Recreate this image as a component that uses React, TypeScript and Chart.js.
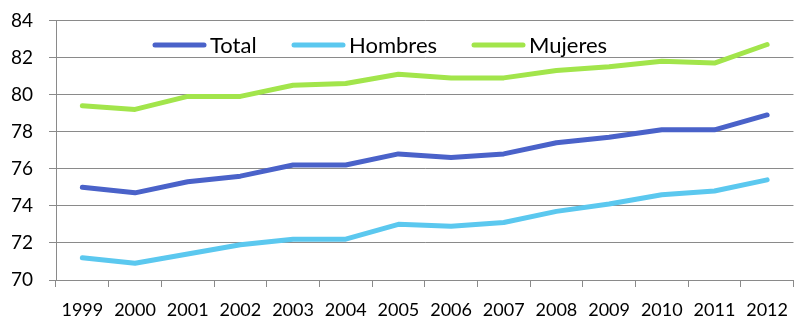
import React, { useEffect, useRef } from "react";
import { Chart, registerables } from "chart.js";

Chart.register(...registerables);

const years = ["1999", "2000", "2001", "2002", "2003", "2004", "2005", "2006", "2007", "2008", "2009", "2010", "2011", "2012"];
const total = [75.0, 74.7, 75.3, 75.6, 76.2, 76.2, 76.8, 76.6, 76.8, 77.4, 77.7, 78.1, 78.1, 78.9];
const hombres = [71.2, 70.9, 71.4, 71.9, 72.2, 72.2, 73.0, 72.9, 73.1, 73.7, 74.1, 74.6, 74.8, 75.4];
const mujeres = [79.4, 79.2, 79.9, 79.9, 80.5, 80.6, 81.1, 80.9, 80.9, 81.3, 81.5, 81.8, 81.7, 82.7];
const seriesNames = ["Total", "Hombres", "Mujeres"];
const seriesColors = ["#4a62c9", "#5bc8ef", "#a2e54b"];

const FONT = "Lato, 'Open Sans', sans-serif";
const GRID = "#8a8a8a";
const SHIFT = 7;

const legendPlugin = {
  id: "innerLegend",
  afterDraw(chart: any) {
    const ctx = chart.ctx;
    const xs = [153, 292, 472];
    const y = 45 + SHIFT;
    ctx.save();
    ctx.font = `22px ${FONT}`;
    ctx.textBaseline = "middle";
    ctx.fillStyle = "#000";
    chart.data.datasets.forEach((ds: any, i: number) => {
      const x = xs[i];
      ctx.strokeStyle = ds.borderColor;
      ctx.lineWidth = 5;
      ctx.lineCap = "round";
      ctx.beginPath();
      ctx.moveTo(x + 2, y);
      ctx.lineTo(x + 51, y);
      ctx.stroke();
      ctx.fillText(ds.label, x + 57, y + 1);
    });
    ctx.restore();
  },
};

export default function App() {
  const ref = useRef<HTMLCanvasElement>(null);
  useEffect(() => {
    document.body.style.margin = "0";
    document.body.style.overflow = "hidden";
    const data = [total, hombres, mujeres];
    const chart = new Chart(ref.current!, {
      type: "line",
      data: {
        labels: years,
        datasets: data.map((d, i) => ({
          label: seriesNames[i],
          data: d,
          borderColor: seriesColors[i],
          backgroundColor: seriesColors[i],
          borderWidth: 5,
          borderCapStyle: "round",
          borderJoinStyle: "round",
          pointRadius: 0,
          tension: 0,
        })),
      },
      options: {
        animation: false,
        responsive: false,
        layout: { padding: { top: 13, right: 0, left: 0, bottom: 0 } },
        plugins: { legend: { display: false }, tooltip: { enabled: false } },
        scales: {
          x: {
            offset: true,
            grid: {
              offset: true,
              drawOnChartArea: false,
              drawTicks: true,
              tickLength: 7,
              color: GRID,
            },
            border: { color: GRID, width: 1 },
            ticks: {
              color: "#000",
              font: { family: FONT, size: 18 },
              padding: 12,
              maxRotation: 0,
              autoSkip: false,
            },
            afterFit: (s: any) => {
              s.height = 37;
            },
          },
          y: {
            min: 70,
            max: 84,
            grid: { color: GRID, tickLength: 7, drawTicks: true },
            border: { color: GRID, width: 1 },
            ticks: {
              stepSize: 2,
              color: "#000",
              font: { family: FONT, size: 19 },
              padding: 16,
            },
            afterFit: (s: any) => {
              s.width = 56;
            },
          },
        },
      },
      plugins: [legendPlugin],
    });
    return () => chart.destroy();
  }, []);
  return (
    <div style={{ width: 800, height: 317, overflow: "hidden" }}>
      <canvas
        ref={ref}
        width={800}
        height={317 + SHIFT}
        style={{ display: "block", marginTop: -SHIFT }}
      />
    </div>
  );
}
